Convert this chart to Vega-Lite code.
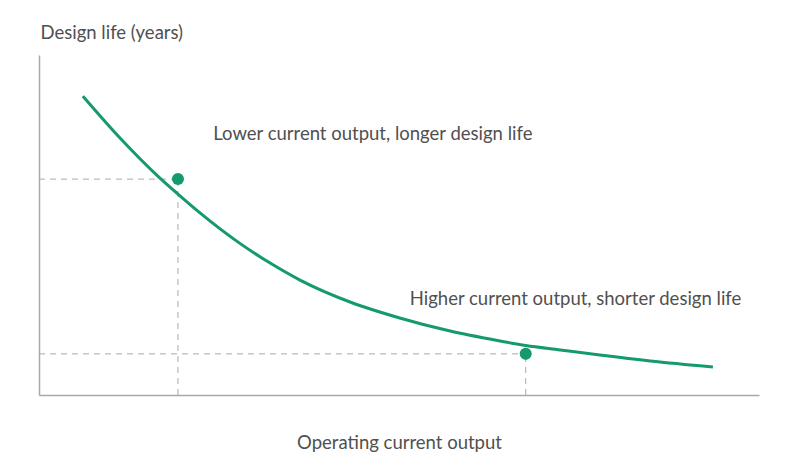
{
  "$schema": "https://vega.github.io/schema/vega-lite/v6.json",
  "width": 720,
  "height": 340,
  "autosize": {"type": "none"},
  "padding": {"left": 39, "top": 55, "right": 41, "bottom": 75},
  "background": "white",
  "config": {"view": {"stroke": null}, "font": "Lato"},
  "datasets": {
    "curve": [
      {"current": 6.1, "life": 87.9},
      {"current": 11.25, "life": 75.6},
      {"current": 16.8, "life": 63.8},
      {"current": 19.3, "life": 59.1},
      {"current": 22.4, "life": 53.5},
      {"current": 27.9, "life": 44.6},
      {"current": 32.1, "life": 38.8},
      {"current": 36.25, "life": 33.8},
      {"current": 43.2, "life": 27.35},
      {"current": 50.1, "life": 22.65},
      {"current": 57.1, "life": 18.8},
      {"current": 64.0, "life": 15.9},
      {"current": 67.6, "life": 14.55},
      {"current": 72.4, "life": 13.25},
      {"current": 77.9, "life": 11.75},
      {"current": 84.9, "life": 10.0},
      {"current": 93.6, "life": 8.25}
    ],
    "points": [
      {"current": 19.3, "life": 63.5, "zero": 0},
      {"current": 67.6, "life": 12.1, "zero": 0}
    ],
    "labels": [
      {"current": 24.2, "life": 75.0, "text": "Lower current output, longer design life"},
      {"current": 51.5, "life": 26.5, "text": "Higher current output, shorter design life"}
    ]
  },
  "layer": [
    {
      "data": {"name": "points"},
      "mark": {"type": "rule", "color": "#aaaaaa", "strokeDash": [6, 5], "strokeWidth": 1},
      "encoding": {
        "x": {"field": "zero", "type": "quantitative"},
        "x2": {"field": "current"},
        "y": {"field": "life", "type": "quantitative"}
      }
    },
    {
      "data": {"name": "points"},
      "mark": {"type": "rule", "color": "#aaaaaa", "strokeDash": [6, 5], "strokeWidth": 1},
      "encoding": {
        "x": {"field": "current", "type": "quantitative"},
        "y": {"field": "zero", "type": "quantitative"},
        "y2": {"field": "life"}
      }
    },
    {
      "data": {"name": "curve"},
      "mark": {"type": "line", "color": "#159a6b", "strokeWidth": 3, "interpolate": "monotone"},
      "encoding": {
        "x": {
          "field": "current", "type": "quantitative",
          "scale": {"domain": [0, 100], "nice": false, "zero": false},
          "axis": {
            "title": "Operating current output", "labels": false, "ticks": false, "grid": false,
            "domainColor": "#aaa9a2", "domainWidth": 1.5,
            "titleFont": "Lato", "titleFontSize": 18.5, "titleFontWeight": "normal", "titleColor": "#505050",
            "titleY": 53, "titleBaseline": "alphabetic"
          }
        },
        "y": {
          "field": "life", "type": "quantitative",
          "scale": {"domain": [0, 100], "nice": false, "zero": false},
          "axis": {
            "title": "Design life (years)", "labels": false, "ticks": false, "grid": false,
            "domainColor": "#aaa9a2", "domainWidth": 1.5,
            "titleFont": "Lato", "titleFontSize": 18.5, "titleFontWeight": "normal", "titleColor": "#505050",
            "titleAngle": 0, "titleAlign": "left", "titleBaseline": "alphabetic",
            "titleX": 1, "titleY": -17
          }
        }
      }
    },
    {
      "data": {"name": "points"},
      "mark": {"type": "circle", "color": "#159a6b", "opacity": 1, "size": 145},
      "encoding": {
        "x": {"field": "current", "type": "quantitative"},
        "y": {"field": "life", "type": "quantitative"}
      }
    },
    {
      "data": {"name": "labels"},
      "mark": {"type": "text", "align": "left", "baseline": "alphabetic", "font": "Lato", "fontSize": 18.5, "color": "#505050"},
      "encoding": {
        "x": {"field": "current", "type": "quantitative"},
        "y": {"field": "life", "type": "quantitative"},
        "text": {"field": "text"}
      }
    }
  ]
}
